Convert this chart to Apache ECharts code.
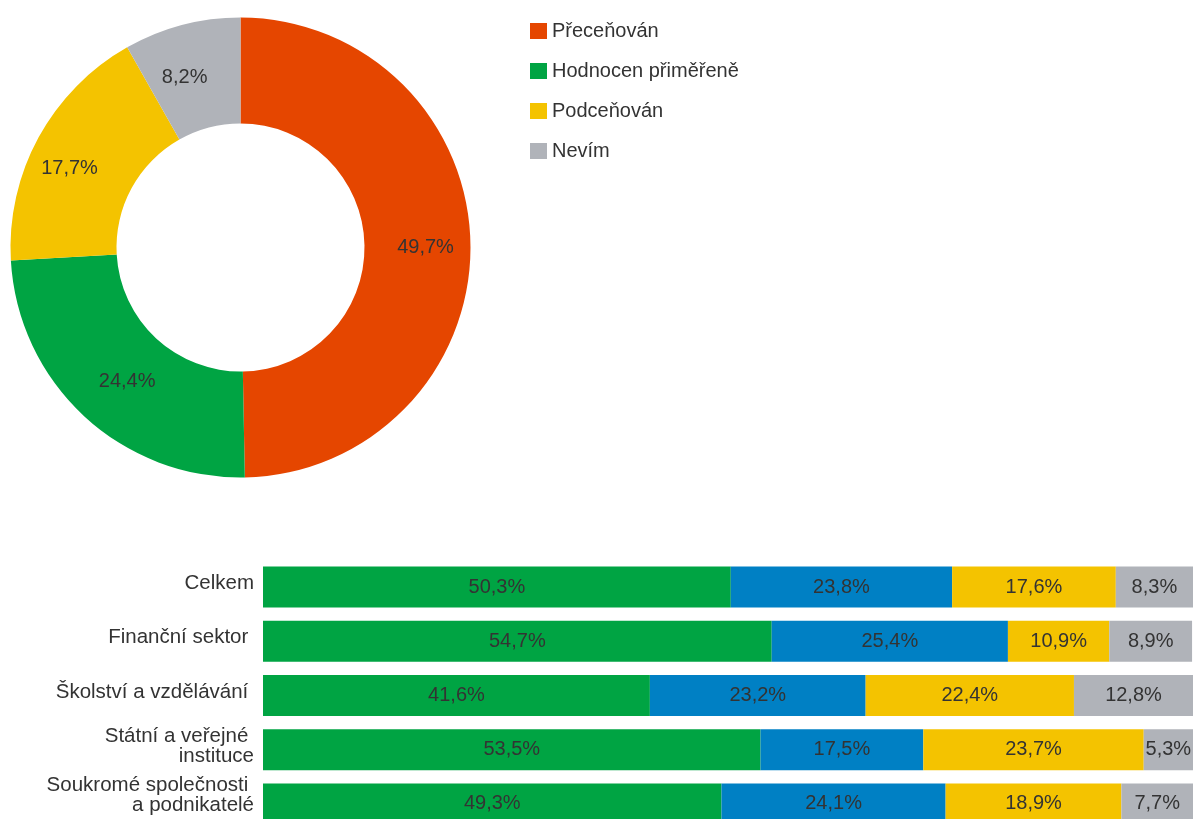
<!DOCTYPE html>
<html>
<head>
<meta charset="utf-8">
<script src="https://cdn.jsdelivr.net/npm/echarts@6/dist/echarts.min.js"></script>
<style>
html,body{margin:0;padding:0;background:#fff;overflow:hidden;}
#c{width:1193px;height:840px;}
</style>
</head>
<body>
<div id="c"></div>
<script>
const pieNames = ['Přeceňován', 'Hodnocen přiměřeně', 'Podceňován', 'Nevím'];
const pieValues = [49.7, 24.4, 17.7, 8.2];
const pieColors = ['#E54600', '#00A443', '#F4C300', '#B0B3B9'];
const pieLabelOffsets = [[5, 2], [9, 2], [-13, 7], [-10, 4]];

const barCategories = ['Celkem', 'Finanční sektor ', 'Školství a vzdělávání ', 'Státní a veřejné \ninstituce', 'Soukromé společnosti \na podnikatelé'];
const barGreen = [50.3, 54.7, 41.6, 53.5, 49.3];
const barBlue = [23.8, 25.4, 23.2, 17.5, 24.1];
const barYellow = [17.6, 10.9, 22.4, 23.7, 18.9];
const barGrey = [8.3, 8.9, 12.8, 5.3, 7.7];
const barColors = ['#00A443', '#0080C4', '#F4C300', '#B0B3B9'];

const FONT = '"Liberation Sans", Arial, sans-serif';
const fmt = v => v.toFixed(1).replace('.', ',') + '%';

function barSeries(name, data, color) {
  return {
    type: 'bar', name: name, stack: 'all', data: data,
    xAxisIndex: 0, yAxisIndex: 0,
    barWidth: 41,
    itemStyle: { color: color },
    label: {
      show: true, position: 'inside', color: '#333', fontSize: 20, fontFamily: FONT,
      formatter: p => fmt(p.value)
    },
    silent: true
  };
}

const chart = echarts.init(document.getElementById('c'), null, { renderer: 'canvas' });
chart.setOption({
  animation: false,
  textStyle: { fontFamily: FONT },
  legend: {
    orient: 'vertical', left: 525, top: 16,
    itemWidth: 17, itemHeight: 16, itemGap: 20,
    icon: 'rect',
    data: pieNames,
    textStyle: { fontSize: 20, color: '#333', fontFamily: FONT, padding: [0, 0, 0, 0] }
  },
  grid: { left: 263, right: 0, top: 560, height: 271, containLabel: false },
  xAxis: { type: 'value', min: 0, max: 100, show: false },
  yAxis: {
    type: 'category', inverse: true,
    data: barCategories,
    axisLine: { show: false }, axisTick: { show: false },
    axisLabel: {
      color: '#333', fontSize: 20.5, fontFamily: FONT, margin: 9, lineHeight: 20, align: 'right',
      padding: [0, 0, 7, 0],
      formatter: (v, i) => i === 4 ? v + '\n{sp| }' : v,
      rich: { sp: { fontSize: 2, lineHeight: 10 } }
    }
  },
  series: [
    {
      type: 'pie', name: 'pie',
      center: [240.5, 247.5], radius: [124, 230],
      startAngle: 90, clockwise: true,
      data: pieNames.map((n, i) => ({
        name: n, value: pieValues[i], itemStyle: { color: pieColors[i] },
        label: { offset: pieLabelOffsets[i] }
      })),
      label: {
        show: true, position: 'inside', color: '#333', fontSize: 20, fontFamily: FONT,
        formatter: p => fmt(p.value)
      },
      labelLine: { show: false },
      silent: true
    },
    barSeries('a', barGreen, barColors[0]),
    barSeries('b', barBlue, barColors[1]),
    barSeries('c', barYellow, barColors[2]),
    barSeries('d', barGrey, barColors[3])
  ]
});
</script>
</body>
</html>
